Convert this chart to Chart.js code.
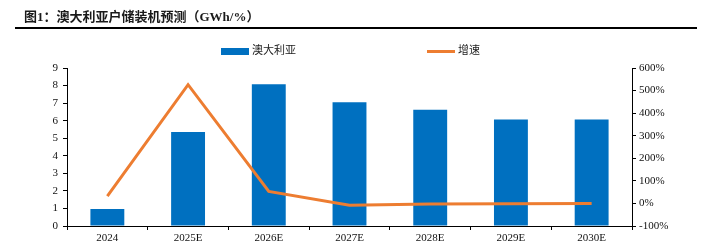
<!DOCTYPE html>
<html>
<head>
<meta charset="utf-8">
<script src="https://cdn.jsdelivr.net/npm/chart.js@4/dist/chart.umd.min.js"></script>
<style>
  body { margin: 0; background: #fff; }
  #wrap { position: relative; width: 717px; height: 252px; overflow: hidden; }
  #title { position: absolute; left: 24px; top: 6px; font: bold 13px "Liberation Serif", "Noto Sans CJK SC", serif; color: #1a1a1a; white-space: nowrap; }
  #rule { position: absolute; left: 15px; top: 27px; width: 682px; height: 2px; background: #000; }
  .leg { position: absolute; top: 41px; font: 11px "Noto Sans CJK SC", sans-serif; color: #222; white-space: nowrap; }
  .leg i { display: inline-block; vertical-align: middle; margin-right: 3px; }
  #myChart { position: absolute; left: 0; top: 0; }
</style>
</head>
<body>
<div id="wrap">
  <canvas id="myChart" width="717" height="252"></canvas>
  <div id="title">图1：澳大利亚户储装机预测（GWh/%）</div>
  <div id="rule"></div>
  <div class="leg" style="left:221px"><i style="width:28px;height:7px;background:#0070C0"></i>澳大利亚</div>
  <div class="leg" style="left:427px"><i style="width:28px;height:3px;background:#ED7D31"></i>增速</div>
</div>
<script>
let years = ['2024', '2025E', '2026E', '2027E', '2028E', '2029E', '2030E'];
let install = [0.97, 5.36, 8.08, 7.05, 6.62, 6.06, 6.06];
let growth = [32, 526, 53, -8, -2, -1, 0];

let BLUE = '#0070C0';
let ORANGE = '#ED7D31';
let tickFont = { family: 'Liberation Serif', size: 11 };

const data = {
  labels: years,
  datasets: [{
    type: 'line',
    label: '增速',
    data: growth,
    yAxisID: 'y1',
    borderColor: ORANGE,
    backgroundColor: ORANGE,
    borderWidth: 3,
    pointRadius: 0,
    tension: 0,
    order: 0
  }, {
    type: 'bar',
    label: '澳大利亚',
    data: install,
    yAxisID: 'y',
    backgroundColor: BLUE,
    barPercentage: 0.42,
    categoryPercentage: 1,
    order: 1
  }]
};

const config = {
  data: data,
  options: {
    responsive: false,
    animation: false,
    devicePixelRatio: 1,
    layout: { padding: { top: 68, left: 0, right: 0, bottom: 0 } },
    plugins: { legend: { display: false }, tooltip: { enabled: false } },
    scales: {
      x: {
        offset: true,
        grid: { offset: true, drawOnChartArea: false, color: '#000', tickLength: 4 },
        border: { color: '#000' },
        ticks: { color: '#111', font: tickFont, padding: 2, maxRotation: 0 },
        afterFit: s => { s.height = 26; }
      },
      y: {
        position: 'left',
        min: 0, max: 9,
        grid: { drawOnChartArea: false, color: '#000', tickLength: 4 },
        border: { color: '#000' },
        ticks: { stepSize: 1, color: '#111', font: tickFont, padding: 5 },
        afterFit: s => { s.width = 67; }
      },
      y1: {
        position: 'right',
        min: -100, max: 600,
        grid: { drawOnChartArea: false, color: '#000', tickLength: 4 },
        border: { color: '#000' },
        ticks: { stepSize: 100, color: '#111', font: tickFont, padding: 3, callback: v => v + '%' },
        afterFit: s => { s.width = 85; }
      }
    }
  }
};

const myChart = new Chart(document.getElementById('myChart'), config);
</script>
</body>
</html>
